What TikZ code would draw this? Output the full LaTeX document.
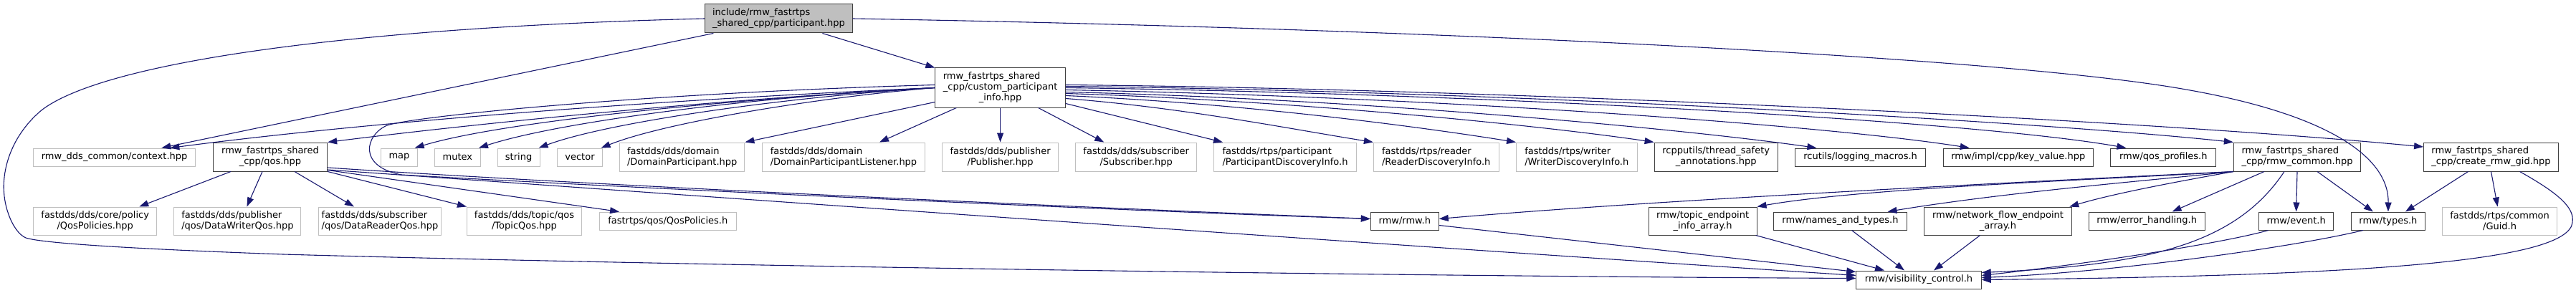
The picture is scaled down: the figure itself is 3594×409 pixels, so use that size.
\documentclass[tikz,border=0pt]{standalone}
\usepackage{fontspec}
\setmainfont{DejaVu Sans}
\usetikzlibrary{arrows.meta}
\definecolor{edgec}{HTML}{191970}
\definecolor{greyb}{HTML}{BFBFBF}
\definecolor{darkb}{HTML}{404040}
\tikzset{
  box/.style={draw=darkb, line width=1pt, inner sep=0pt, font=\fontsize{13}{15}\selectfont},
  gbox/.style={box, draw=greyb},
  rootbox/.style={box, fill=greyb},
  hA/.style={minimum height=25pt},
  hB/.style={minimum height=40pt},
  hC/.style={minimum height=55pt},
  edge/.style={draw=edgec, line width=1.1pt, -{Triangle[length=13pt,width=9pt]}},
}
\begin{document}
\begin{tikzpicture}[x=1pt,y=-1pt]
\fill[white] (0,0) rectangle (3594,409);
\useasboundingbox (0,0) rectangle (3594,409);

% row 1
\node[rootbox, hB, align=left, minimum width=205.6pt] (part) at (1086.4,26) {include/rmw\_fastrtps\\\_shared\_cpp/participant.hpp};
\node[box, hC, minimum width=181.5pt] (cust) at (1395.6,122.5) {\begin{tabular}{@{}l@{}}rmw\_fastrtps\_shared\\\_cpp/custom\_participant\\\multicolumn{1}{@{}c@{}}{\_info.hpp}\end{tabular}};

% row 2
\node[gbox, hA, minimum width=226.5pt] (ctx) at (159.6,219.5) {rmw\_dds\_common/context.hpp};
\node[box, hB, align=center, minimum width=159.3pt] (qos) at (377,219) {rmw\_fastrtps\_shared\\\_cpp/qos.hpp};
\node[gbox, hA, minimum width=50.3pt] (map) at (557,219.5) {map};
\node[gbox, hA, minimum width=64.1pt] (mutex) at (638.4,219.5) {mutex};
\node[gbox, hA, minimum width=58.9pt] (string) at (723.6,219.5) {string};
\node[gbox, hA, minimum width=62.1pt] (vector) at (809,219.5) {vector};
\node[gbox, hB, align=left, minimum width=174.4pt] (dpart) at (951.7,219) {fastdds/dds/domain\\/DomainParticipant.hpp};
\node[gbox, hB, align=left, minimum width=227.1pt] (dlist) at (1177,219) {fastdds/dds/domain\\/DomainParticipantListener.hpp};
\node[gbox, hB, align=center, minimum width=161.7pt] (pub) at (1395.6,219) {fastdds/dds/publisher\\/Publisher.hpp};
\node[gbox, hB, align=center, minimum width=168.5pt] (sub) at (1585.2,219) {fastdds/dds/subscriber\\/Subscriber.hpp};
\node[gbox, hB, align=left, minimum width=199pt] (pdi) at (1793,219) {fastdds/rtps/participant\\/ParticipantDiscoveryInfo.h};
\node[gbox, hB, align=left, minimum width=174.7pt] (rdi) at (2003.7,219) {fastdds/rtps/reader\\/ReaderDiscoveryInfo.h};
\node[gbox, hB, align=left, minimum width=168.5pt] (wdi) at (2199.8,219) {fastdds/rtps/writer\\/WriterDiscoveryInfo.h};
\node[box, hB, align=center, minimum width=172.2pt] (tsa) at (2394.2,219) {rcpputils/thread\_safety\\\_annotations.hpp};
\node[box, hA, minimum width=181.5pt] (log) at (2595.6,219.5) {rcutils/logging\_macros.h};
\node[box, hA, minimum width=209.2pt] (kv) at (2815.8,219.5) {rmw/impl/cpp/key\_value.hpp};
\node[box, hA, minimum width=146.8pt] (qprof) at (3018.3,219.5) {rmw/qos\_profiles.h};
\node[box, hB, align=left, minimum width=177.3pt] (common) at (3205,219) {rmw\_fastrtps\_shared\\\_cpp/rmw\_common.hpp};
\node[box, hB, align=left, minimum width=187.9pt] (gid) at (3475.5,219) {rmw\_fastrtps\_shared\\\_cpp/create\_rmw\_gid.hpp};

% row 3
\node[gbox, minimum height=39pt, align=center, minimum width=172pt] (qpol) at (132.7,308.5) {fastdds/dds/core/policy\\/QosPolicies.hpp};
\node[gbox, minimum height=39pt, align=left, minimum width=177.1pt] (dwq) at (331.4,308.5) {fastdds/dds/publisher\\/qos/DataWriterQos.hpp};
\node[gbox, minimum height=39pt, align=left, minimum width=171.3pt] (drq) at (530,308.5) {fastdds/dds/subscriber\\/qos/DataReaderQos.hpp};
\node[gbox, minimum height=39pt, align=center, minimum width=160.1pt] (tqos) at (731.5,308.5) {fastdds/dds/topic/qos\\/TopicQos.hpp};
\node[gbox, hA, minimum width=190.5pt] (qph) at (931.8,308.5) {fastrtps/qos/QosPolicies.h};
\node[box, hA, minimum width=94.9pt] (rmwh) at (1959.8,308.5) {rmw/rmw.h};
\node[box, minimum height=39pt, align=center, minimum width=150.8pt] (tep) at (2375.6,308.5) {rmw/topic\_endpoint\\\_info\_array.h};
\node[box, hA, minimum width=185.5pt] (nat) at (2567.5,308.5) {rmw/names\_and\_types.h};
\node[box, minimum height=39pt, align=center, minimum width=206.4pt] (nfe) at (2787.5,308.5) {rmw/network\_flow\_endpoint\\\_array.h};
\node[box, hA, minimum width=161.6pt] (err) at (2995.2,308.5) {rmw/error\_handling.h};
\node[box, hA, minimum width=104.2pt] (evt) at (3203.6,308.5) {rmw/event.h};
\node[box, hA, minimum width=103.1pt] (types) at (3331.9,308.5) {rmw/types.h};
\node[gbox, minimum height=39pt, align=center, minimum width=160.7pt] (guid) at (3487.6,308.5) {fastdds/rtps/common\\/Guid.h};

% row 4
\node[box, hA, minimum width=174.4pt] (vis) at (2677,390.5) {rmw/visibility\_control.h};

% participant edges
\draw[edge] ([xshift=61pt]part.south) -- (cust.north west);
\draw[edge] ([xshift=-91pt]part.south) -- ([xshift=-48pt]ctx.north east);
\draw[edge] (part.east) .. controls (2000,40) and (2800,80) .. (3050,125) .. controls (3250,160) and (3333,220) .. (types.north);
\draw[edge] (part.west) .. controls (500,38) and (150,85) .. (59,153) .. controls (20,185) and (3,230) .. (5.5,268) .. controls (7,295) and (20,325) .. (36,332) .. controls (60,340) and (200,348) .. (395,355) .. controls (1000,372) and (2000,386) .. ([yshift=2pt]vis.west);

% custom participant info, left fan
\draw[edge] (cust.west) .. controls (900,140) and (500,172) .. ([xshift=-36pt]ctx.north east);
\draw[edge] (cust.west) .. controls (950,142) and (620,178) .. (qos.north east);
\draw[edge] (cust.west) .. controls (1000,140) and (700,170) .. ([xshift=-4pt]map.north east);
\draw[edge] (cust.west) .. controls (1050,135) and (780,170) .. ([xshift=-3pt]mutex.north east);
\draw[edge] (cust.west) .. controls (1100,135) and (850,170) .. ([xshift=-2pt]string.north east);
\draw[edge] (cust.west) .. controls (1150,135) and (930,170) .. ([xshift=-2pt]vector.north east);
\draw[edge] ([yshift=-20pt]cust.west) -- (dpart.north east);
\draw[edge] ([xshift=30pt]cust.south west) -- ([xshift=50pt]dlist.north);
\draw[edge] (cust.south) -- (pub.north);
\draw[edge] ([xshift=53pt]cust.south) -- ([xshift=-45pt]sub.north);
\draw[edge] ([yshift=-22pt]cust.east) -- ([xshift=13pt]pdi.north west);
\draw[edge] ([yshift=4pt]cust.west) .. controls (900,130) and (580,162) .. (540,175) .. controls (510,188) and (498,232) .. (560,244) .. controls (800,258) and (1500,292) .. ([yshift=3pt]rmwh.west);

% custom participant info, right fan
\draw[edge] ([yshift=-15pt]cust.east) .. controls (1650,150) and (1800,180) .. (rdi.north west);
\draw[edge] ([yshift=-11pt]cust.east) .. controls (1750,145) and (2000,180) .. (wdi.north west);
\draw[edge] ([yshift=-8pt]cust.east) .. controls (1800,140) and (2150,175) .. (tsa.north west);
\draw[edge] ([yshift=-6pt]cust.east) .. controls (1900,138) and (2350,180) .. ([xshift=30pt]log.north west);
\draw[edge] ([yshift=-3pt]cust.east) .. controls (2000,135) and (2550,175) .. ([xshift=37pt]kv.north west);
\draw[edge] (cust.east) .. controls (2050,130) and (2750,168) .. ([xshift=22pt]qprof.north west);
\draw[edge] ([yshift=2pt]cust.east) .. controls (2100,127) and (2850,170) .. (common.north west);
\draw[edge] ([yshift=4pt]cust.east) .. controls (2100,124) and (3000,168) .. ([yshift=14pt]gid.west);

% qos edges
\draw[edge] ([yshift=-15pt]qos.east) .. controls (800,257) and (1400,285) .. ([yshift=3pt]rmwh.west);
\draw[edge] ([yshift=-18pt]qos.east) .. controls (900,268) and (1800,333) .. ([yshift=6pt]vis.west);
\draw[edge] (qos.south east) -- (tqos.north west);
\draw[edge] ([yshift=2pt]qos.south east) -- ([xshift=28pt]qph.north west);
\draw[edge] ([xshift=-55pt]qos.south) -- ([xshift=-25pt]qpol.north east);
\draw[edge] ([xshift=-11pt]qos.south) -- ([xshift=13pt]dwq.north);
\draw[edge] ([xshift=34pt]qos.south) -- ([xshift=-36pt]drq.north);

% rmw.h
\draw[edge] ([yshift=-6pt]rmwh.east) -- ([yshift=11pt]vis.west);

% rmw_common edges
\draw[edge] (common.south west) .. controls (2800,255) and (2300,280) .. ([yshift=3pt]rmwh.east);
\draw[edge] (common.south west) .. controls (2950,250) and (2600,262) .. (tep.north east);
\draw[edge] (common.south west) .. controls (3000,252) and (2800,268) .. ([xshift=66pt]nat.north);
\draw[edge] (common.south west) .. controls (3030,255) and (2950,270) .. ([xshift=-4pt]nfe.north east);
\draw[edge] ([xshift=-46pt]common.south) -- ([xshift=-46pt]err.north east);
\draw[edge] ([xshift=-18pt]common.south) .. controls (3120,340) and (3000,370) .. ([yshift=10pt]vis.east);
\draw[edge] (common.south) -- (evt.north);
\draw[edge] ([xshift=28pt]common.south) -- ([xshift=-21pt]types.north);

% create_rmw_gid edges
\draw[edge] ([xshift=-32pt]gid.south) -- ([xshift=24pt]types.north);
\draw[edge] (gid.south) -- ([xshift=-3pt]guid.north);
\draw[edge] ([xshift=40pt]gid.south) .. controls (3570,270) and (3592,290) .. (3589,310) .. controls (3585,365) and (3300,385) .. (vis.east);

% row 3 to visibility_control
\draw[edge] ([xshift=74pt]tep.south) -- ([xshift=-48pt]vis.north);
\draw[edge] ([xshift=16pt]nat.south) -- ([xshift=-20pt]vis.north);
\draw[edge] ([xshift=-25pt]nfe.south) -- ([xshift=21pt]vis.north);
\draw[edge] ([xshift=-39pt]evt.south) .. controls (3100,340) and (2900,370) .. ([yshift=6pt]vis.east);
\draw[edge] ([xshift=-35pt]types.south) .. controls (3200,345) and (2950,380) .. ([yshift=3pt]vis.east);
\end{tikzpicture}
\end{document}
